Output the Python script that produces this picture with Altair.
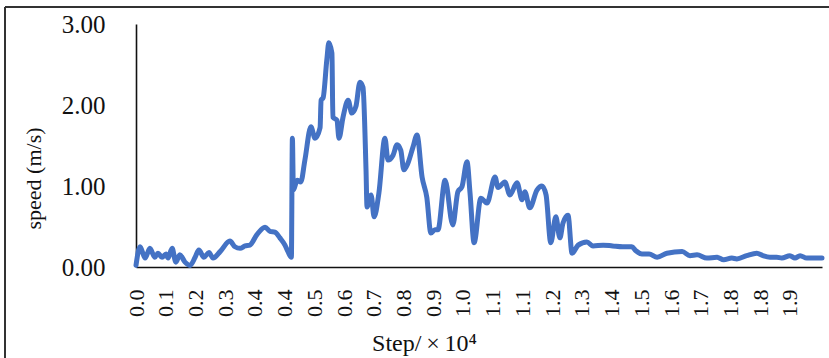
import altair as alt
import pandas as pd

# Simulation step (x 10^4) and particle speed (m/s)
step = [0.000, 0.012, 0.027, 0.041, 0.056, 0.065, 0.077, 0.089, 0.095, 0.107,
        0.118, 0.130, 0.145, 0.160, 0.175, 0.186, 0.201, 0.216, 0.228, 0.249,
        0.278, 0.293, 0.308, 0.323, 0.337, 0.358, 0.382, 0.397, 0.411, 0.426,
        0.441, 0.450, 0.460, 0.463, 0.466, 0.477, 0.488, 0.500, 0.518, 0.530,
        0.545, 0.548, 0.554, 0.565, 0.571, 0.580, 0.583, 0.595, 0.601, 0.613,
        0.628, 0.639, 0.651, 0.663, 0.672, 0.681, 0.684, 0.696, 0.705, 0.719,
        0.737, 0.746, 0.761, 0.773, 0.784, 0.793, 0.805, 0.820, 0.832, 0.847,
        0.861, 0.873, 0.885, 0.894, 0.915, 0.938, 0.953, 0.965, 0.980, 0.989,
        1.001, 1.021, 1.039, 1.063, 1.072, 1.092, 1.107, 1.128, 1.143, 1.151,
        1.166, 1.187, 1.202, 1.214, 1.228, 1.243, 1.255, 1.264, 1.279, 1.291,
        1.309, 1.335, 1.353, 1.383, 1.411, 1.441, 1.468, 1.480, 1.498, 1.519,
        1.543, 1.572, 1.617, 1.640, 1.661, 1.690, 1.720, 1.740, 1.764, 1.779,
        1.808, 1.838, 1.856, 1.877, 1.897, 1.912, 1.936, 1.951, 1.966, 1.986,
        2.004, 2.031]
speed = [0.02, 0.25, 0.11, 0.23, 0.12, 0.17, 0.12, 0.16, 0.11, 0.23,
         0.06, 0.15, 0.06, 0.02, 0.12, 0.21, 0.12, 0.18, 0.11, 0.19,
         0.32, 0.25, 0.23, 0.26, 0.27, 0.40, 0.49, 0.44, 0.43, 0.36,
         0.27, 0.19, 0.12, 1.59, 0.95, 1.07, 1.05, 1.32, 1.73, 1.59,
         1.72, 2.06, 2.09, 2.56, 2.77, 2.64, 1.85, 1.81, 1.59, 1.85,
         2.06, 1.90, 1.98, 2.28, 2.22, 1.20, 0.74, 0.89, 0.62, 0.91,
         1.59, 1.32, 1.38, 1.51, 1.44, 1.20, 1.28, 1.48, 1.63, 1.11,
         0.86, 0.42, 0.46, 0.46, 1.07, 0.52, 0.93, 0.99, 1.30, 0.91,
         0.30, 0.85, 0.79, 1.11, 0.98, 1.05, 0.89, 1.04, 0.83, 0.93,
         0.73, 0.95, 1.00, 0.89, 0.30, 0.62, 0.36, 0.54, 0.64, 0.17,
         0.27, 0.31, 0.26, 0.27, 0.26, 0.25, 0.25, 0.20, 0.16, 0.16,
         0.12, 0.17, 0.19, 0.14, 0.15, 0.11, 0.12, 0.09, 0.11, 0.10,
         0.14, 0.17, 0.14, 0.12, 0.12, 0.11, 0.14, 0.11, 0.14, 0.11,
         0.11, 0.11]

# Category-style tick positions, labelled to one decimal
x_ticks = [0.0, 0.088, 0.176, 0.264, 0.352, 0.44, 0.528, 0.616, 0.704, 0.792,
           0.88, 0.968, 1.056, 1.144, 1.232, 1.32, 1.408, 1.496, 1.584, 1.672,
           1.76, 1.848, 1.936]
y_ticks = [0, 1, 2, 3]

SERIF = "Liberation Serif"
W, H = 686, 243
PAD_L, PAD_T = 136, 24

df = pd.DataFrame({"step": step, "speed": speed})

line = alt.Chart(df).mark_line(
    color="#4472C4", strokeWidth=5, strokeJoin="round", strokeCap="round",
    interpolate="monotone"
).encode(
    x=alt.X("step:Q",
            scale=alt.Scale(domain=[0, 2.031], nice=False, zero=False),
            axis=alt.Axis(values=x_ticks, format=".1f", labelAngle=-90,
                          labelFont=SERIF, labelFontSize=22, labelColor="#111",
                          labelPadding=22, labelOverlap=False, labelFlush=False,
                          ticks=False, tickSize=0, grid=False,
                          domainColor="#111", domainWidth=1.6,
                          title="Step/\u2009×\u200910⁴", titleFont=SERIF, titleFontSize=24,
                          titleFontWeight="normal", titleColor="#111",
                          titleX=288, titleY=83, titleAlign="center",
                          titleBaseline="alphabetic")),
    y=alt.Y("speed:Q",
            scale=alt.Scale(domain=[0, 3], nice=False),
            axis=alt.Axis(values=y_ticks, format=".2f",
                          labelFont=SERIF, labelFontSize=25, labelColor="#111",
                          labelPadding=31, ticks=False, tickSize=0, grid=False,
                          domainColor="#111", domainWidth=1.6,
                          title="speed (m/s)", titleFont=SERIF, titleFontSize=22,
                          titleFontWeight="normal", titleColor="#111",
                          titleX=-103, titleY=154, titleAlign="center",
                          titleBaseline="middle", titleAngle=-90)),
)

# Frame lines around the figure (left and top edges)
frame_left = alt.Chart(df).mark_rule(color="#333", strokeWidth=1.5, clip=False).encode(
    x=alt.value(5 - PAD_L), y=alt.value(7 - PAD_T), y2=alt.value(360 - PAD_T)
)
frame_top = alt.Chart(df).mark_rule(color="#333", strokeWidth=1.5, clip=False).encode(
    y=alt.value(7 - PAD_T), x=alt.value(5 - PAD_L), x2=alt.value(835 - PAD_L)
)

chart = alt.layer(line, frame_left, frame_top).properties(
    width=W, height=H,
    autosize=alt.AutoSizeParams(type="none"),
    padding={"left": PAD_L, "top": PAD_T, "right": 829 - PAD_L - W, "bottom": 358 - PAD_T - H},
    background="white",
).configure_view(stroke=None)

chart.save("out.html", embed_options={"renderer": "svg", "actions": False})
